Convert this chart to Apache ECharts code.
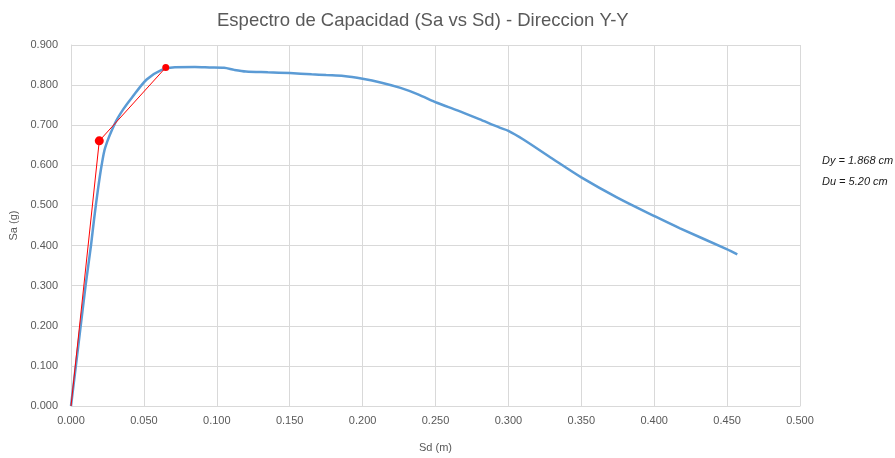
<!DOCTYPE html>
<html>
<head>
<meta charset="utf-8">
<script src="https://cdn.jsdelivr.net/npm/echarts@6/dist/echarts.min.js"></script>
<style>
  html, body { margin: 0; padding: 0; background: #fff; }
  #chart { width: 895px; height: 458px; }
</style>
</head>
<body>
<div id="chart"></div>
<script>
// Capacity curve: spectral displacement Sd (m) vs spectral acceleration Sa (g)
const sdCurve = [0, 0.005, 0.010, 0.0137, 0.0158, 0.0185, 0.021, 0.0235, 0.0302, 0.0359,
  0.0416, 0.0519, 0.0622, 0.0713, 0.085, 0.095, 0.105, 0.112, 0.120, 0.135,
  0.150, 0.165, 0.175, 0.187, 0.200, 0.213, 0.226, 0.238, 0.251, 0.265,
  0.280, 0.294, 0.300, 0.310, 0.330, 0.350, 0.375, 0.401, 0.4177, 0.4497, 0.457];
const saCurve = [0, 0.15, 0.30, 0.40, 0.465, 0.54, 0.60, 0.645, 0.705, 0.740,
  0.768, 0.814, 0.838, 0.8445, 0.845, 0.844, 0.843, 0.838, 0.834, 0.832,
  0.830, 0.827, 0.825, 0.823, 0.816, 0.806, 0.793, 0.777, 0.756, 0.737,
  0.715, 0.694, 0.686, 0.665, 0.617, 0.570, 0.519, 0.472, 0.443, 0.391, 0.378];

// Bilinear idealization: origin, yield point, ultimate point
const sdBilinear = [0, 0.0194, 0.065];
const saBilinear = [0, 0.661, 0.844];
const bilinearSymbolSizes = [0, 9, 7];

const annotations = ['Dy = 1.868 cm', 'Du = 5.20 cm'];

const zip = (xs, ys) => xs.map((x, i) => [x, ys[i]]);
const textColor = '#595959';
const gridColor = '#D9D9D9';
const fontFamily = 'Liberation Sans, Arial, sans-serif';

const chart = echarts.init(document.getElementById('chart'), null, { renderer: 'canvas' });
chart.setOption({
  animation: false,
  backgroundColor: '#ffffff',
  title: {
    text: 'Espectro de Capacidad (Sa vs Sd) - Direccion Y-Y',
    left: 212,
    top: 6,
    textStyle: { color: textColor, fontSize: 18.5, fontWeight: 'normal', fontFamily: fontFamily }
  },
  grid: { left: 71, right: 95, top: 45, bottom: 49 },
  xAxis: {
    type: 'value',
    min: 0, max: 0.5, interval: 0.05,
    name: 'Sd (m)',
    nameLocation: 'middle',
    nameGap: 36,
    nameTextStyle: { color: textColor, fontSize: 11, fontFamily: fontFamily },
    axisLine: { show: true, lineStyle: { color: gridColor, width: 1 } },
    axisTick: { show: false },
    axisLabel: { color: textColor, fontSize: 11, fontFamily: fontFamily, margin: 9,
      formatter: v => v.toFixed(3) },
    splitLine: { show: true, lineStyle: { color: gridColor, width: 1 } }
  },
  yAxis: {
    type: 'value',
    min: 0, max: 0.9, interval: 0.1,
    name: 'Sa (g)',
    nameLocation: 'middle',
    nameGap: 45,
    nameTextStyle: { color: textColor, fontSize: 11, fontFamily: fontFamily },
    axisLine: { show: true, lineStyle: { color: gridColor, width: 1 } },
    axisTick: { show: false },
    axisLabel: { color: textColor, fontSize: 11, fontFamily: fontFamily, margin: 13,
      formatter: v => v.toFixed(3) },
    splitLine: { show: true, lineStyle: { color: gridColor, width: 1 } }
  },
  series: [
    {
      type: 'line',
      data: zip(sdCurve, saCurve),
      smooth: 0.3,
      showSymbol: false,
      lineStyle: { color: '#5B9BD5', width: 2.5 },
      z: 2
    },
    {
      type: 'line',
      data: zip(sdBilinear, saBilinear),
      symbol: 'circle',
      symbolSize: (v, p) => bilinearSymbolSizes[p.dataIndex],
      itemStyle: { color: '#FF0000' },
      lineStyle: { color: '#FF0000', width: 1 },
      z: 3
    }
  ],
  graphic: annotations.map((t, i) => ({
    type: 'text',
    left: 822,
    top: 155 + i * 21,
    style: { text: t, fill: '#1a1a1a', font: 'italic 11px ' + fontFamily }
  }))
});
</script>
</body>
</html>
